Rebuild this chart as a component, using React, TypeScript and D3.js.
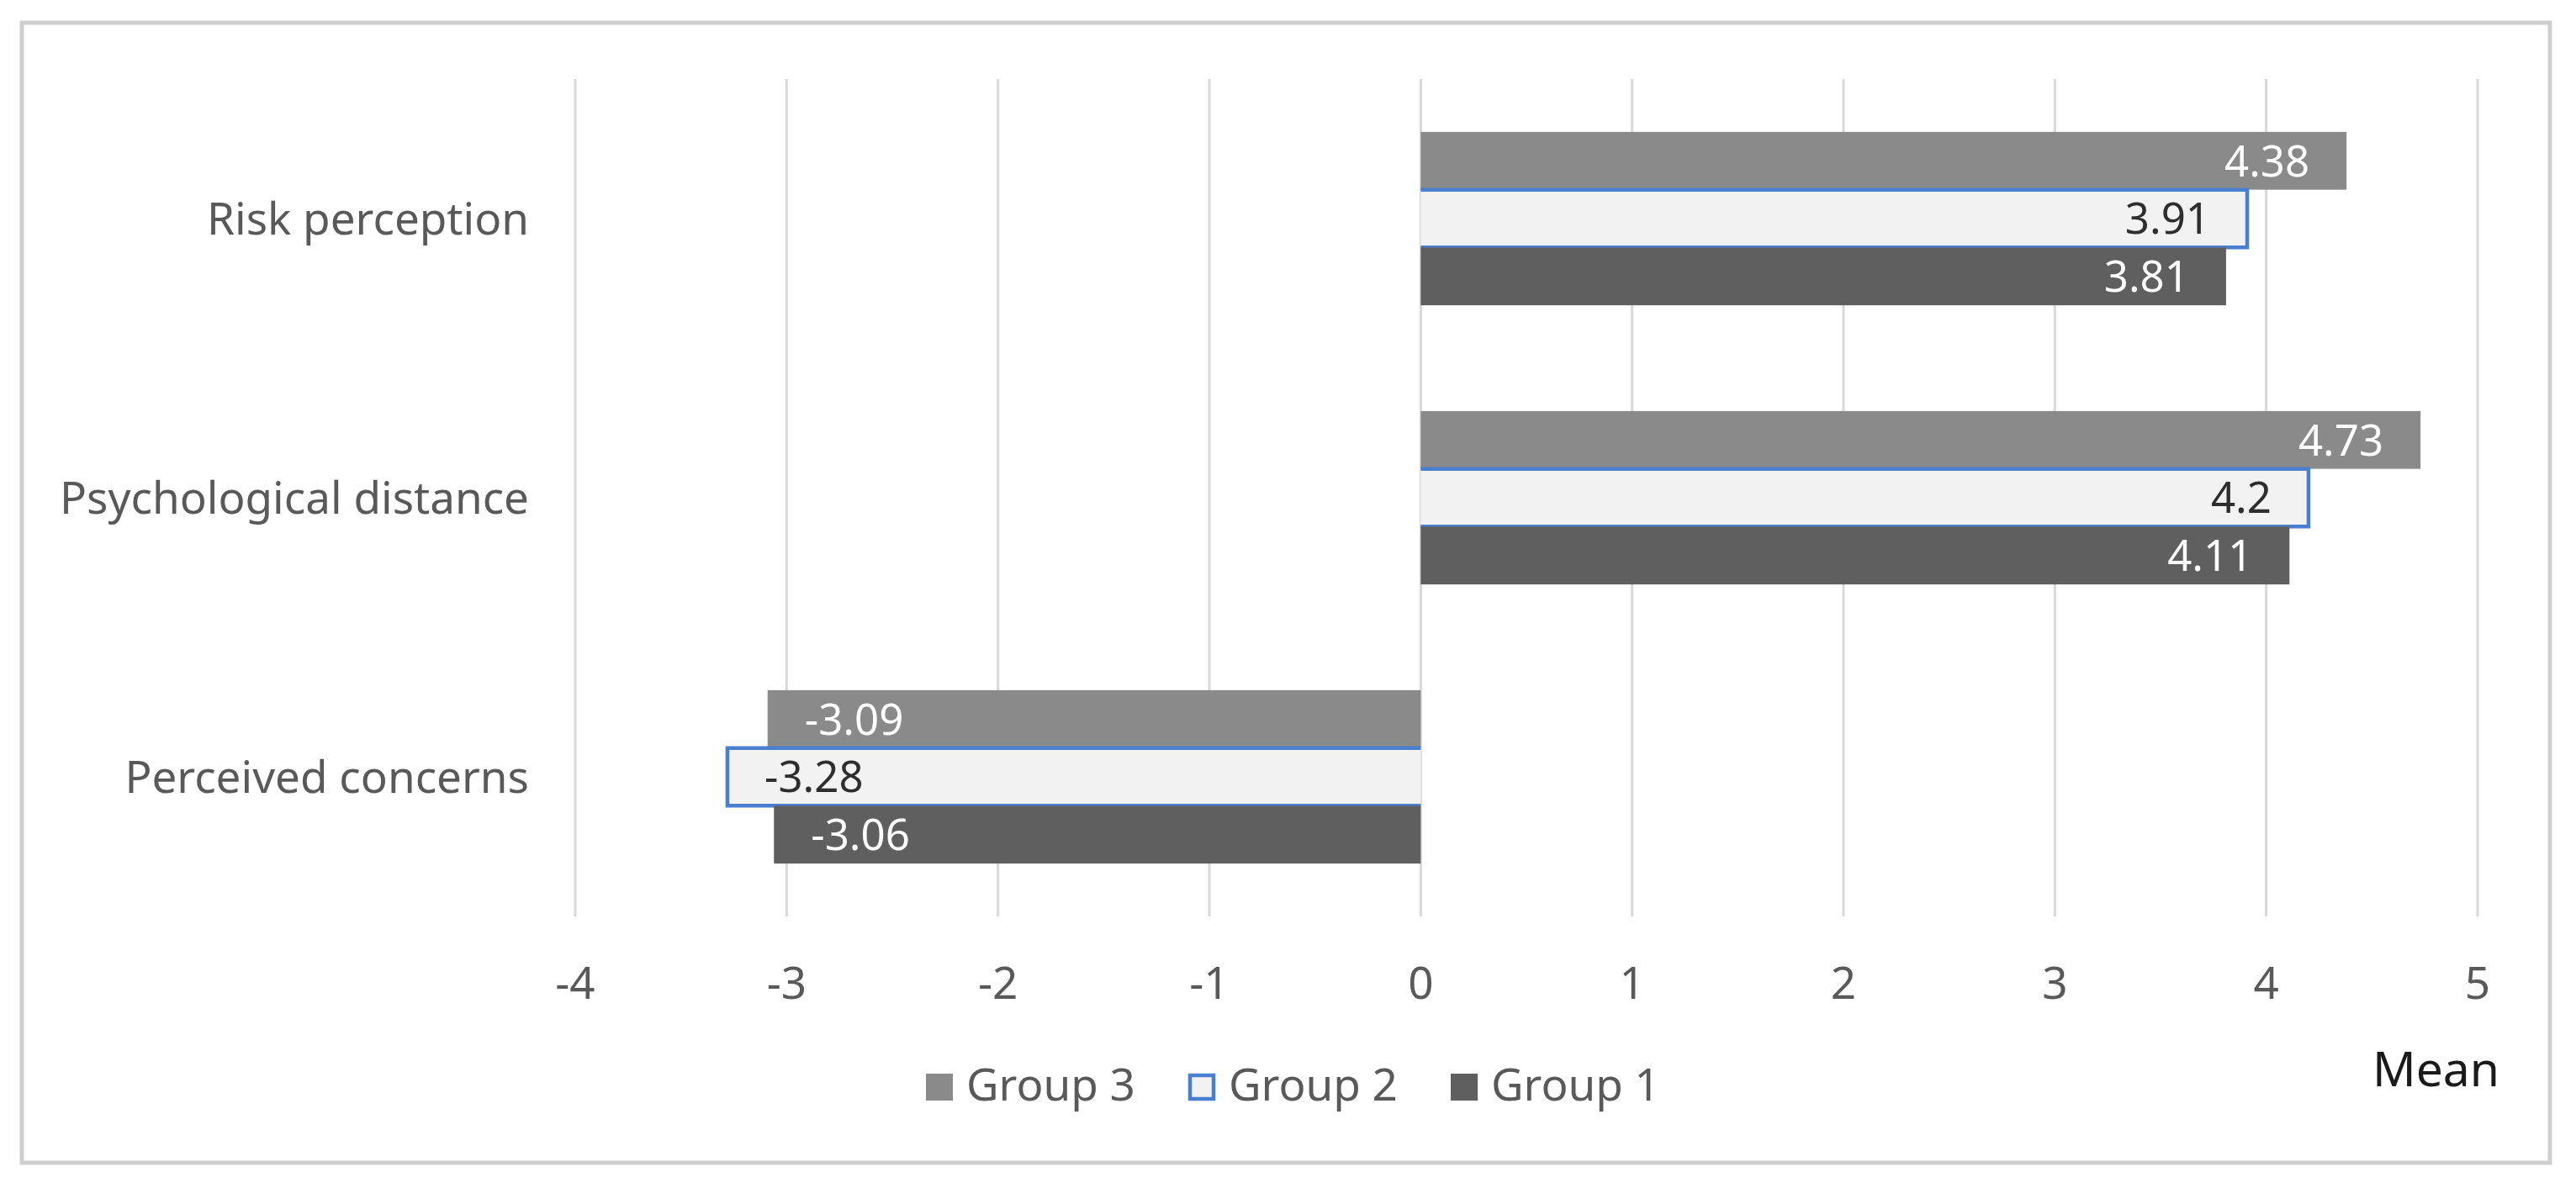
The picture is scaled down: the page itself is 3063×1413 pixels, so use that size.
import React from "react";
import * as d3 from "d3";

const categories = ["Risk perception", "Psychological distance", "Perceived concerns"];
const groups = ["Group 3", "Group 2", "Group 1"];
const group3Values = [4.38, 4.73, -3.09];
const group2Values = [3.91, 4.2, -3.28];
const group1Values = [3.81, 4.11, -3.06];
const xTicks = [-4, -3, -2, -1, 0, 1, 2, 3, 4, 5];
const axisTitle = "Mean";

const W = 3063;
const H = 1413;
const FONT = "'Noto Sans', 'Open Sans', sans-serif";

const seriesValues: Record<string, number[]> = {
  "Group 3": group3Values,
  "Group 2": group2Values,
  "Group 1": group1Values,
};
const fills: Record<string, string> = {
  "Group 3": "#8a8a8a",
  "Group 2": "#f2f2f2",
  "Group 1": "#5f5f5f",
};
const labelColors: Record<string, string> = {
  "Group 3": "#ffffff",
  "Group 2": "#2e2e2e",
  "Group 1": "#ffffff",
};

export default function App() {
  const x = d3.scaleLinear().domain([-4, 5]).range([684, 2946]);
  const y = d3.scaleBand<string>().domain(categories).range([94, 1090]).padding(0);
  const yg = d3
    .scaleBand<string>()
    .domain(groups)
    .range([0, y.bandwidth()])
    .paddingInner(0)
    .paddingOuter(0.915);

  const labelFs = 51;
  const axisFs = 53;
  const blue = "#4a7fcf";

  return (
    <svg
      width={W}
      height={H}
      style={{ position: "absolute", left: 0, top: 0, background: "#fff" }}
      fontFamily={FONT}
    >
      <rect x={0} y={0} width={W} height={H} fill="#ffffff" />
      <rect x={26} y={27} width={3006} height={1356} fill="#ffffff" stroke="#cfcfcf" strokeWidth={5} />

      {/* gridlines */}
      {xTicks.map((t) => (
        <line
          key={"g" + t}
          x1={x(t)}
          x2={x(t)}
          y1={94}
          y2={1090}
          stroke="#d9d9d9"
          strokeWidth={3}
        />
      ))}

      {/* bars */}
      {categories.map((c, ci) =>
        groups.map((g) => {
          const v = seriesValues[g][ci];
          const xz = x(0);
          const xv = x(v);
          const x0 = Math.min(xz, xv);
          const x1 = Math.max(xz, xv);
          const yy = (y(c) as number) + (yg(g) as number);
          const h = yg.bandwidth();
          const isG2 = g === "Group 2";
          return (
            <g key={c + g}>
              <rect x={x0} y={yy} width={x1 - x0} height={h} fill={fills[g]} />
              {isG2 && (
                <path
                  d={`M${xz},${yy}L${xv},${yy}L${xv},${yy + h}L${xz},${yy + h}`}
                  fill="none"
                  stroke={blue}
                  strokeWidth={4.5}
                  strokeLinejoin="miter"
                />
              )}
            </g>
          );
        })
      )}

      {/* data labels */}
      {categories.map((c, ci) =>
        groups.map((g) => {
          const v = seriesValues[g][ci];
          const yy = (y(c) as number) + (yg(g) as number) + yg.bandwidth() / 2;
          const pos = v >= 0;
          return (
            <text
              key={"l" + c + g}
              x={pos ? x(v) - 44 : x(v) + 44}
              y={yy + labelFs * 0.36}
              textAnchor={pos ? "end" : "start"}
              fontSize={labelFs}
              fill={labelColors[g]}
            >
              {String(v)}
            </text>
          );
        })
      )}

      {/* category labels */}
      {categories.map((c) => (
        <text
          key={"c" + c}
          x={629}
          y={(y(c) as number) + y.bandwidth() / 2 + axisFs * 0.36}
          textAnchor="end"
          fontSize={axisFs}
          fill="#595959"
        >
          {c}
        </text>
      ))}

      {/* tick labels */}
      {xTicks.map((t) => (
        <text
          key={"t" + t}
          x={x(t)}
          y={1188}
          textAnchor="middle"
          fontSize={axisFs}
          fill="#595959"
        >
          {String(t)}
        </text>
      ))}

      {/* axis title */}
      <text x={2972} y={1292} textAnchor="end" fontSize={57} fill="#1a1a1a">
        {axisTitle}
      </text>

      {/* legend */}
      {groups.map((g, i) => {
        const lx = 1101 + i * 312;
        const isG2 = g === "Group 2";
        return (
          <g key={"lg" + g}>
            <rect
              x={lx + (isG2 ? 2 : 0)}
              y={1277 + (isG2 ? 2 : 0)}
              width={isG2 ? 28 : 32}
              height={isG2 ? 28 : 32}
              fill={fills[g]}
              stroke={isG2 ? blue : "none"}
              strokeWidth={isG2 ? 4.5 : 0}
            />
            <text x={lx + 48} y={1309} fontSize={axisFs} fill="#595959">
              {g}
            </text>
          </g>
        );
      })}
    </svg>
  );
}
